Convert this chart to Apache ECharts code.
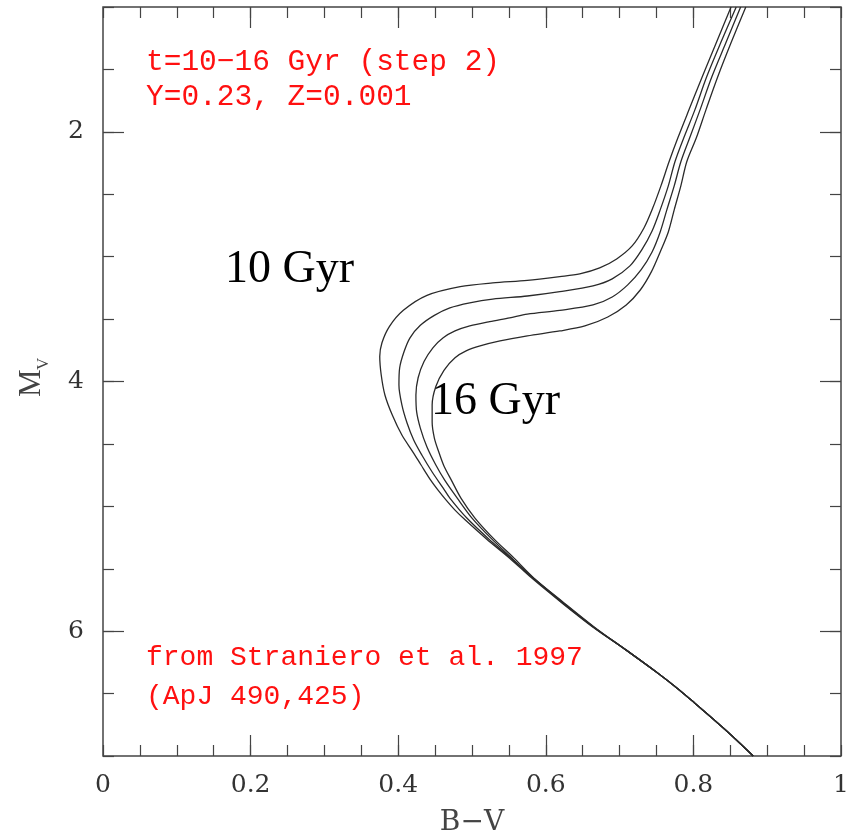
<!DOCTYPE html>
<html><head><meta charset="utf-8">
<script src="https://cdn.jsdelivr.net/npm/echarts@6/dist/echarts.min.js"></script>
<style>html,body{margin:0;padding:0;background:#fff}#c{width:855px;height:838px}</style>
</head><body><div id="c"></div>
<script>
// Isochrones [B-V, M_V], ordered from the top of the giant branch down the main sequence
const iso10 = [[0.851,1.00],[0.831,1.287],[0.812,1.559],[0.794,1.824],[0.779,2.048],[0.767,2.24],[0.756,2.433],[0.745,2.609],[0.733,2.77],[0.717,2.914],[0.696,3.018],[0.673,3.09],[0.646,3.138],[0.619,3.16],[0.575,3.19],[0.528,3.21],[0.484,3.24],[0.439,3.31],[0.407,3.43],[0.388,3.56],[0.378,3.69],[0.375,3.80],[0.377,3.948],[0.382,4.108],[0.392,4.269],[0.405,4.429],[0.420,4.565],[0.431,4.669],[0.444,4.79],[0.454,4.87],[0.465,4.95],[0.477,5.03],[0.491,5.11],[0.520,5.263],[0.551,5.415],[0.581,5.575],[0.619,5.76],[0.664,5.968],[0.709,6.152],[0.752,6.337],[0.778,6.457],[0.802,6.577],[0.824,6.689],[0.844,6.794],[0.863,6.898],[0.881,7.00]];
const iso12 = [[0.858,1.00],[0.837,1.287],[0.818,1.559],[0.802,1.824],[0.787,2.048],[0.775,2.24],[0.766,2.433],[0.755,2.625],[0.744,2.794],[0.730,2.946],[0.714,3.074],[0.690,3.178],[0.664,3.234],[0.619,3.28],[0.575,3.315],[0.528,3.34],[0.497,3.37],[0.470,3.41],[0.449,3.47],[0.430,3.55],[0.416,3.65],[0.408,3.76],[0.402,3.89],[0.401,4.028],[0.405,4.188],[0.412,4.333],[0.421,4.469],[0.432,4.589],[0.446,4.725],[0.461,4.854],[0.470,4.934],[0.493,5.094],[0.523,5.263],[0.553,5.415],[0.583,5.575],[0.620,5.76],[0.665,5.968],[0.709,6.152],[0.752,6.337],[0.778,6.457],[0.802,6.577],[0.824,6.689],[0.844,6.794],[0.863,6.898],[0.881,7.00]];
const iso14 = [[0.864,1.00],[0.844,1.287],[0.825,1.559],[0.809,1.824],[0.795,2.048],[0.783,2.24],[0.774,2.433],[0.764,2.625],[0.755,2.802],[0.744,2.962],[0.729,3.106],[0.711,3.226],[0.690,3.323],[0.664,3.387],[0.619,3.43],[0.575,3.46],[0.551,3.49],[0.524,3.52],[0.497,3.555],[0.477,3.595],[0.461,3.65],[0.447,3.73],[0.435,3.84],[0.427,3.97],[0.424,4.108],[0.425,4.244],[0.430,4.373],[0.439,4.525],[0.451,4.669],[0.463,4.79],[0.480,4.934],[0.500,5.094],[0.527,5.263],[0.554,5.415],[0.583,5.575],[0.621,5.76],[0.665,5.968],[0.709,6.152],[0.752,6.337],[0.778,6.457],[0.802,6.577],[0.824,6.689],[0.844,6.794],[0.863,6.898],[0.881,7.00]];
const iso16 = [[0.871,1.00],[0.851,1.287],[0.833,1.559],[0.817,1.824],[0.804,2.048],[0.791,2.24],[0.783,2.433],[0.774,2.625],[0.766,2.802],[0.755,2.962],[0.743,3.122],[0.728,3.267],[0.709,3.387],[0.684,3.483],[0.653,3.555],[0.619,3.595],[0.575,3.635],[0.538,3.675],[0.511,3.715],[0.492,3.755],[0.477,3.81],[0.462,3.91],[0.451,4.04],[0.446,4.188],[0.446,4.325],[0.449,4.453],[0.455,4.565],[0.462,4.677],[0.472,4.79],[0.485,4.934],[0.504,5.094],[0.530,5.263],[0.557,5.415],[0.584,5.575],[0.622,5.76],[0.666,5.968],[0.709,6.152],[0.752,6.337],[0.778,6.457],[0.802,6.577],[0.824,6.689],[0.844,6.794],[0.863,6.898],[0.881,7.00]];
const isochrones = [iso10, iso12, iso14, iso16];
const ageNames = ['10 Gyr', '12 Gyr', '14 Gyr', '16 Gyr'];
const xLabelTicks = [0, 0.2, 0.4, 0.6, 0.8, 1];
const xMajorTicks = [0.2, 0.4, 0.6, 0.8];
const yMajorTicks = [2, 4, 6];
const noteTop = ['t=10\u221216 Gyr (step 2)', 'Y=0.23, Z=0.001'];
const noteBottom = ['from Straniero et al. 1997', '(ApJ 490,425)'];
const curveLabels = ['10 Gyr', '16 Gyr'];

const axisCol = '#444';
const labelFont = 'DejaVu Serif';
const tickStyle = {color: axisCol, width: 1.2};

function xAx(pos, major, labels) {
  const a = {type: 'value', position: pos, offset: 0, min: 0, max: 1, splitLine: {show: false},
    axisLine: {show: false, onZero: false},
    axisTick: {show: true, inside: true, length: major ? 21 : 11, lineStyle: tickStyle},
    axisLabel: {show: false}};
  if (major) a.axisTick.customValues = xMajorTicks; else a.interval = 0.05;
  if (labels) {
    a.axisLabel = {show: true, customValues: xLabelTicks, margin: 17, color: '#333',
      fontFamily: labelFont, fontSize: 25, formatter: v => String(v)};
    a.name = 'B\u2212V'; a.nameLocation = 'middle'; a.nameGap = 53;
    a.nameTextStyle = {fontFamily: labelFont, fontSize: 28, color: '#444'};
  }
  return a;
}
function yAx(pos, major, labels) {
  const a = {type: 'value', position: pos, offset: 0, min: 1, max: 7, inverse: true, splitLine: {show: false},
    axisLine: {show: false, onZero: false},
    axisTick: {show: true, inside: true, length: major ? 21 : 11, lineStyle: tickStyle},
    axisLabel: {show: false}};
  if (major) a.axisTick.customValues = yMajorTicks; else a.interval = 0.5;
  if (labels) {
    a.axisLabel = {show: true, customValues: yMajorTicks, margin: 19, color: '#333',
      fontFamily: labelFont, fontSize: 25};
  }
  return a;
}

const chart = echarts.init(document.getElementById('c'));
chart.setOption({
  animation: false,
  backgroundColor: '#fff',
  grid: {left: 103, right: 14, top: 7, bottom: 82, show: true, borderColor: axisCol, borderWidth: 1.5,
    backgroundColor: 'transparent', containLabel: false, outerBoundsMode: 'none'},
  xAxis: [xAx('bottom', false, true), xAx('bottom', true, false), xAx('top', false, false), xAx('top', true, false)],
  yAxis: [yAx('left', false, true), yAx('left', true, false), yAx('right', false, false), yAx('right', true, false)],
  series: isochrones.map((d, i) => ({
    name: ageNames[i], type: 'line', data: d, xAxisIndex: 0, yAxisIndex: 0,
    showSymbol: false, symbol: 'none', smooth: 0.3, clip: true,
    lineStyle: {color: '#2a2a2a', width: 1.3}
  })),
  graphic: [
    {type: 'text', x: 146, y: 62, style: {text: noteTop[0], font: '29.5px "Liberation Mono"', fill: '#ff1010', verticalAlign: 'middle'}},
    {type: 'text', x: 146, y: 97, style: {text: noteTop[1], font: '29.5px "Liberation Mono"', fill: '#ff1010', verticalAlign: 'middle'}},
    {type: 'text', x: 146, y: 658, style: {text: noteBottom[0], font: '28px "Liberation Mono"', fill: '#ff1010', verticalAlign: 'middle'}},
    {type: 'text', x: 146, y: 697, style: {text: noteBottom[1], font: '28px "Liberation Mono"', fill: '#ff1010', verticalAlign: 'middle'}},
    {type: 'text', x: 225, y: 270, style: {text: curveLabels[0], font: '46px "Liberation Serif"', fill: '#000', verticalAlign: 'middle'}},
    {type: 'text', x: 431, y: 402, style: {text: curveLabels[1], font: '46px "Liberation Serif"', fill: '#000', verticalAlign: 'middle'}},
    {type: 'group', x: 32, y: 382, rotation: Math.PI / 2, children: [
      {type: 'text', x: -15, y: 0, style: {text: 'M', font: '31px "Liberation Serif"', fill: '#444', verticalAlign: 'middle', align: 'left'}},
      {type: 'text', x: 12, y: 12, style: {text: 'V', font: '17px "Liberation Serif"', fill: '#444', verticalAlign: 'middle', align: 'left'}}
    ]}
  ]
});
</script>
</body></html>
